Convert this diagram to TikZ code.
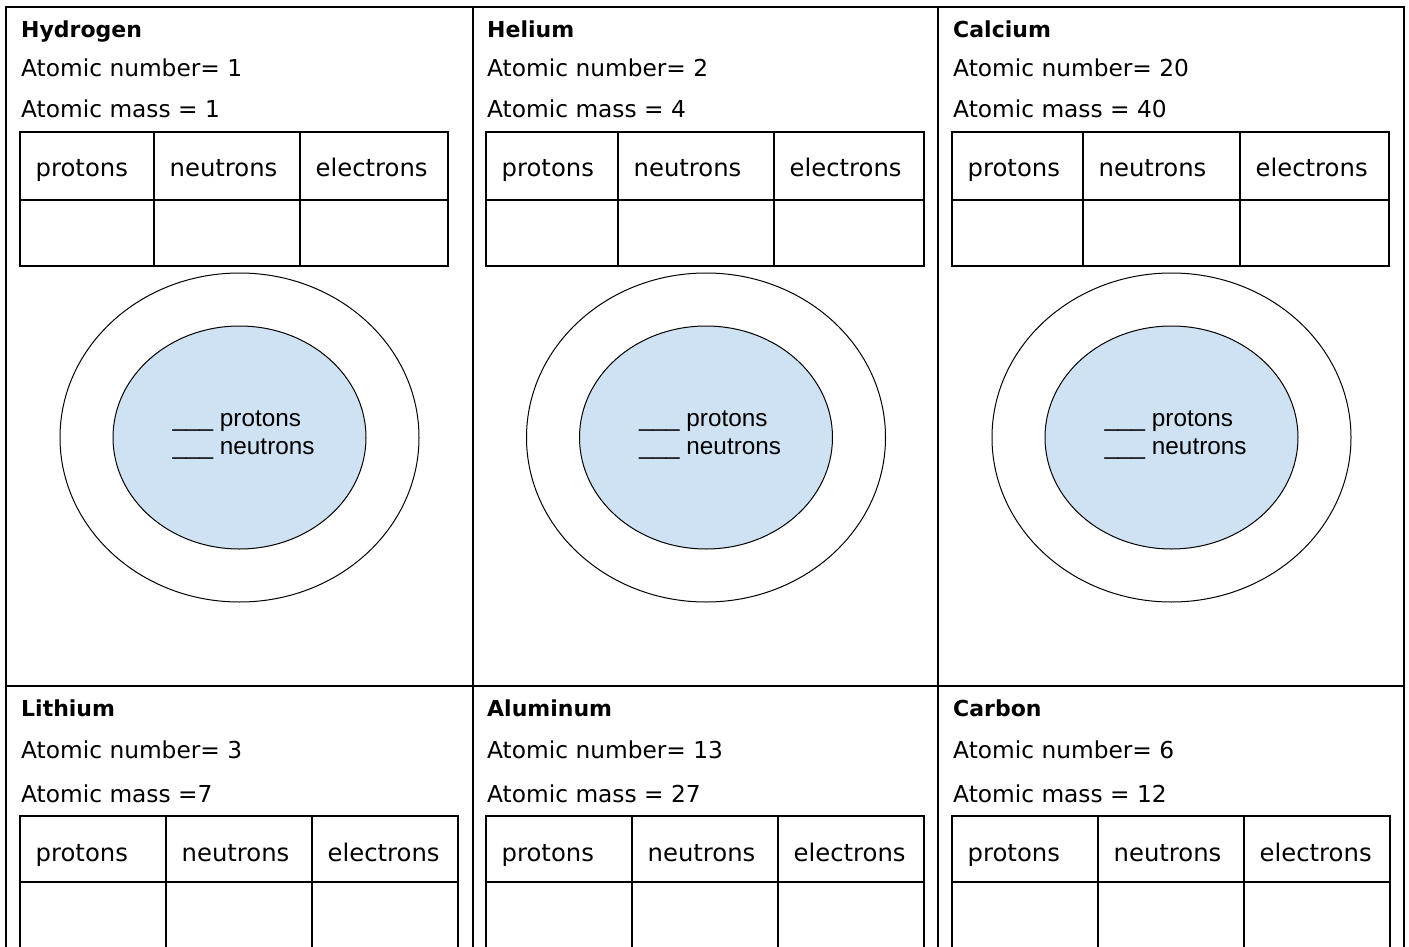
\documentclass[tikz,border=0pt]{standalone}
\usepackage{fontspec}
\setmainfont{DejaVu Sans}
\newfontfamily\nucfont{Liberation Sans}
\usetikzlibrary{shapes.geometric}
\definecolor{nucfill}{HTML}{CFE2F3}
\newcommand\elemhead[8]{%
  \node[titletext] (#1-title) at (#2,#3) {#4};
  \node[infotext] (#1-num) at (#2,#3+#8) {#5};
  \node[infotext] (#1-mass) at (#2,#3+#7) {#6};
}
\newcommand\elemtable[8]{%
  \draw[rule] (#2,#6) rectangle (#5,#8);
  \draw[rule] (#3,#6) -- (#3,#8);
  \draw[rule] (#4,#6) -- (#4,#8);
  \draw[rule] (#2,#7) -- (#5,#7);
  \node[hdrtext] (#1-hp) at (#2+15.5,#6+45) {protons};
  \node[hdrtext] (#1-hn) at (#3+15.5,#6+45) {neutrons};
  \node[hdrtext] (#1-he) at (#4+15.5,#6+45) {electrons};
}
\newcommand\atomdraw[2]{%
  \node[orbit] (#1-orbit) at (#2,437.5) {};
  \node[nucleus] (#1-nuc) at (#2,437.5) {};
  \node[nuctext] (#1-np) at (#2-67,426) {\_\_\_ protons};
  \node[nuctext] (#1-nn) at (#2-67,454) {\_\_\_ neutrons};
}
\begin{document}
\begin{tikzpicture}[x=1pt,y=-1pt,
  rule/.style={line width=2pt,line cap=rect},
  titletext/.style={anchor=base west,inner sep=0pt,font=\fontsize{22}{26}\selectfont\bfseries},
  infotext/.style={anchor=base west,inner sep=0pt,font=\fontsize{23.3}{28}\selectfont},
  hdrtext/.style={anchor=base west,inner sep=0pt,font=\fontsize{24.3}{28}\selectfont},
  nuctext/.style={anchor=base west,inner sep=0pt,font=\fontsize{24.3}{28}\nucfont},
  orbit/.style={ellipse,draw,line width=1pt,inner sep=0pt,minimum width=359pt,minimum height=329pt},
  nucleus/.style={ellipse,draw,fill=nucfill,line width=1pt,inner sep=0pt,minimum width=253pt,minimum height=223pt}]
\useasboundingbox (0,0) rectangle (1409,947);
\clip (0,0) rectangle (1409,947);
\fill[white] (0,0) rectangle (1409,947);
% outer frame and grid
\draw[rule] (6,980) -- (6,7) -- (1404,7) -- (1404,980);
\draw[rule] (472.5,7) -- (472.5,980);
\draw[rule] (938,7) -- (938,980);
\draw[rule] (6,686) -- (1404,686);
% top row
\elemhead{h}{21}{38}{Hydrogen}{Atomic number= 1}{Atomic mass = 1}{80}{38.5}
\elemhead{he}{487}{38}{Helium}{Atomic number= 2}{Atomic mass = 4}{80}{38.5}
\elemhead{ca}{953}{38}{Calcium}{Atomic number= 20}{Atomic mass = 40}{80}{38.5}
\elemtable{h}{20}{154}{300}{448}{132}{200}{266}
\elemtable{he}{486}{618}{774}{924}{132}{200}{266}
\elemtable{ca}{952}{1083}{1240}{1389}{132}{200}{266}
\atomdraw{h}{239.5}
\atomdraw{he}{706}
\atomdraw{ca}{1171.5}
% bottom row
\elemhead{li}{21}{716}{Lithium}{Atomic number= 3}{Atomic mass =7}{86}{42}
\elemhead{al}{487}{716}{Aluminum}{Atomic number= 13}{Atomic mass = 27}{86}{42}
\elemhead{c}{953}{716}{Carbon}{Atomic number= 6}{Atomic mass = 12}{86}{42}
\elemtable{li}{20}{166}{312}{458}{816}{882}{990}
\elemtable{al}{486}{632}{778}{924}{816}{882}{990}
\elemtable{c}{952}{1098}{1244}{1390}{816}{882}{990}
\end{tikzpicture}
\end{document}
